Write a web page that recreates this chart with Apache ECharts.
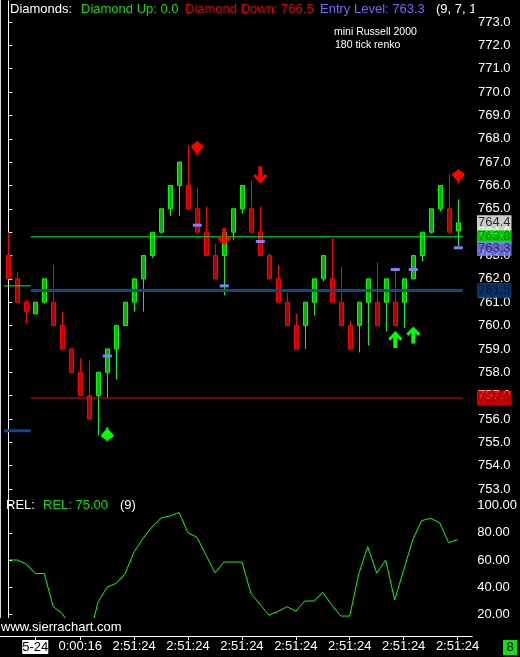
<!DOCTYPE html>
<html><head><meta charset="utf-8">
<script src="https://cdn.jsdelivr.net/npm/echarts@6/dist/echarts.min.js"></script>
<style>html,body{margin:0;padding:0;background:#000;}#c{width:520px;height:657px;}</style>
</head><body><div id="c"></div>
<script>
// ---- data ----
const opens  = [763,762,761,760.5,761,761,760,759,758,757,757,758,759,760,761,762,763,764,765,766,766,765,764,763,763,764,765,765,764,763,762,761,760,760,761,762,762,761,760,760,761,761,761,761,761,762,763,764,765,765,764.05];
const closes = [762,761,760.6,761,762,760,759,758,757,756,758,759,760,761,762,763,764,765,766,767,765,764,763,762,764,765,766,764,763,762,761,760,759,761,762,763,761,760,759,761,762,760,762,760,762,763,764,765,766,764,764.4];
const lows   = [762,761,760.1,760.5,760.95,760,759,758,757,756,755.3,756.9,757.7,760,760.6,760.6,762.9,763.95,764.7,764.7,765,764,763,762,761.3,763.65,764.8,764,763,762,761,760,759,759,760.45,761.9,761,760,759,758.85,759.15,760,759.75,760,759.9,762,762.75,763.95,764.9,764,763.4];
const highs  = [764,762.3,761.1,761,762,762.6,760.6,759,758.6,758.5,758,759,760,761,762,763,764,765,766,767,767.7,765.9,765.1,763.5,764,765,766,766.2,765.1,763.1,762.6,761.4,760.5,761,762,763,763.75,762.5,760.2,761,762,762.7,762,762.5,762,763,764,765,766,766.5,765.4];
const relValues = [60,60,57,50,50,25.6,20.7,10,6,3,29.3,40,42.8,50,66,76,84.5,91,92.4,95,80,76.7,63.7,50.6,58.5,58.5,58.5,35.5,27.4,19.5,22,25.6,22.4,29.8,29.8,36.2,26.8,18.7,18.7,49.7,69.8,50.4,60,30.5,52.6,74.7,89,90.7,87.5,72.8,75];
const priceTicks = [773,772,771,770,769,768,767,766,765,764,763,762,761,760,759,758,757,756,755,754,753];
const relTicks = [100,80,60,40,20];
const timeTickIndex = [3,8,14,20,26,32,38,44,50];
const timeTickLabels = ['5-24','0:00:16','2:51:24','2:51:24','2:51:24','2:51:24','2:51:24','2:51:24','2:51:24'];
const diamondDown = [[21,767.6],[50,766.4]];
const diamondUp = [[11,755.35]];
const arrowDown = [[24,763.8],[28,766.45]];
const arrowUp = [[43,759.4],[45,759.6]];
const entryMarks = [[11,758.7],[21,764.3],[24,761.7],[28,763.6],[43,762.4],[45,762.4],[50,763.33]];
const levelGreen = 763.8, levelBlue = 761.5, levelRed = 756.9;
const levelSpan = [2.5, 50.5];
const stubSpan = [-0.48, 2.5];
const stubGreen = 761.7, stubBlue = 755.5;
const lastPrice = 764.4, entryLevel = 763.3;

// ---- chart ----
const FONT = '"Liberation Sans", Arial, sans-serif';
const X_MIN = -0.922, X_MAX = 51.633;
const bars = opens.map((o,i)=>[i,o,closes[i],lows[i],highs[i]]);
const relData = relValues.map((v,i)=>[i,v]);
const hline = (v, span) => [[span[0], v],[span[1], v]];

const arrowDownPath = 'path://M5,0 L9,0 L9,10 L12,7 L14,9 L7,16 L0,9 L2,7 L5,10 Z';
const arrowUpPath = 'path://M5,16 L9,16 L9,6 L12,9 L14,7 L7,0 L0,7 L2,9 L5,6 Z';
const diamondDownPath = 'path://M5,0 L7,0 L7,1 L12,4 L12,6 L7,11 L7,13 L5,13 L5,11 L0,6 L0,4 L5,1 Z';
const diamondUpPath = 'path://M5,13 L7,13 L7,12 L12,9 L12,7 L7,2 L7,0 L5,0 L5,2 L0,7 L0,9 L5,12 Z';

function priceBox(v, bg, fg, z) {
  return {
    type:'scatter', xAxisIndex:0, yAxisIndex:0, z:z, clip:false, silent:true,
    symbolSize:0, data:[[X_MAX, v]],
    label:{show:true, position:'right', distance:4, formatter:()=>v.toFixed(1),
      backgroundColor:bg, color:fg, fontFamily:FONT, fontSize:13, padding:[1,1,0,1], lineHeight:14}
  };
}
function lineSeries(data, color, width, z) {
  return {type:'line', xAxisIndex:0, yAxisIndex:0, data:data, symbol:'none', z:z, silent:true,
    lineStyle:{color:color, width:width}};
}
function markers(data, symbol, size, color, z) {
  return {type:'scatter', xAxisIndex:0, yAxisIndex:0, data:data, symbol:symbol, symbolSize:size, z:z, silent:true,
    itemStyle:{color:color, opacity:1}};
}

const chart = echarts.init(document.getElementById('c'), null, {renderer:'canvas'});
chart.setOption({
  backgroundColor:'#000',
  animation:false,
  textStyle:{fontFamily:FONT},
  grid:[
    {left:0, right:47, top:1, height:492},
    {left:0, right:47, top:494, height:142}
  ],
  xAxis:[
    {gridIndex:0, type:'value', min:X_MIN, max:X_MAX, show:false},
    {gridIndex:1, type:'value', min:X_MIN, max:X_MAX,
      axisLine:{show:true, lineStyle:{color:'#fff', width:1}},
      axisTick:{show:true, customValues:timeTickIndex, length:4, lineStyle:{color:'#fff'}},
      axisLabel:{customValues:timeTickIndex, margin:4, color:'#fff', fontSize:13, fontFamily:FONT,
        formatter:(v)=>{const k=timeTickIndex.indexOf(Math.round(v)); const t=k>=0?timeTickLabels[k]:''; return k===0?'{d|'+t+'}':t;},
        rich:{d:{backgroundColor:'#fff', color:'#000', fontSize:13, fontFamily:FONT, padding:[1,0,0,0]}}},
      splitLine:{show:false}}
  ],
  yAxis:[
    {gridIndex:0, type:'value', position:'right', min:752.83, max:773.9,
      axisLine:{show:true, lineStyle:{color:'#fff'}},
      axisTick:{show:true, customValues:priceTicks, length:4, lineStyle:{color:'#fff'}},
      axisLabel:{customValues:priceTicks, formatter:(v)=>v.toFixed(1), color:'#fff', fontSize:13, fontFamily:FONT, margin:5},
      splitLine:{show:false}},
    {gridIndex:1, type:'value', position:'right', min:4.0, max:108.6,
      axisLine:{show:true, lineStyle:{color:'#fff'}},
      axisTick:{show:true, customValues:relTicks, length:4, lineStyle:{color:'#fff'}},
      axisLabel:{customValues:relTicks, formatter:(v)=>v.toFixed(2), color:'#fff', fontSize:13, fontFamily:FONT, margin:5},
      splitLine:{show:false}}
  ],
  series:[
    {type:'candlestick', xAxisIndex:0, yAxisIndex:0, data:bars, encode:{x:0, y:[1,2,3,4]}, barWidth:5, z:2, silent:true,
      itemStyle:{color:'#00b400', color0:'#b40000', borderColor:'#00ff00', borderColor0:'#ff0000', borderWidth:1}},
    lineSeries(hline(levelGreen, levelSpan), '#00ff00', 1, 3),
    lineSeries(hline(levelBlue, levelSpan), '#0b4a8a', 3, 3),
    lineSeries(hline(levelRed, levelSpan), '#ff0000', 1, 3),
    lineSeries(hline(stubGreen, stubSpan), '#00ff00', 1, 3),
    lineSeries(hline(stubBlue, stubSpan), '#0b4a8a', 3, 3),
    markers(entryMarks, 'rect', [9,3], '#8080ff', 4),
    markers(arrowDown, arrowDownPath, [14,17], '#ff0000', 5),
    markers(arrowUp, arrowUpPath, [14,17], '#00ff00', 5),
    markers(diamondDown, diamondDownPath, [12,14], '#ff0000', 5),
    markers(diamondUp, diamondUpPath, [12,14], '#00ff00', 5),
    priceBox(levelRed, '#ff0000', '#800000', 6),
    priceBox(levelBlue, '#0b3d7d', '#001530', 6),
    priceBox(levelGreen, '#00ff00', '#006000', 6),
    priceBox(entryLevel, '#8080ff', '#1a1a60', 7),
    priceBox(lastPrice, '#ffffff', '#000000', 8),
    {type:'line', xAxisIndex:1, yAxisIndex:1, data:relData, symbol:'none', z:2, silent:true,
      lineStyle:{color:'#00ff00', width:1}}
  ],
  graphic:[
    {type:'line', shape:{x1:0.5, y1:0, x2:0.5, y2:618}, style:{stroke:'#d0d0d0', lineWidth:1}, z:50},
    {type:'text', x:10, y:9, z:60, style:{text:'Diamonds:', fill:'#fff', font:'13px '+FONT, verticalAlign:'middle'}},
    {type:'text', x:81, y:9, z:60, style:{text:'Diamond Up: 0.0', fill:'#00e000', font:'13px '+FONT, verticalAlign:'middle'}},
    {type:'text', x:185, y:9, z:60, style:{text:'Diamond Down: 766.5', fill:'#e00000', font:'13px '+FONT, verticalAlign:'middle'}},
    {type:'text', x:320, y:9, z:60, style:{text:'Entry Level: 763.3', fill:'#6b6bff', font:'13px '+FONT, verticalAlign:'middle'}},
    {type:'text', x:436, y:9, z:60, style:{text:'(9, 7, 1', fill:'#fff', font:'13px '+FONT, verticalAlign:'middle'}},
    {type:'rect', shape:{x:474, y:0, width:46, height:17}, style:{fill:'#000'}, z:61},
    {type:'text', x:334, y:32.5, z:60, style:{text:'mini Russell 2000', fill:'#fff', font:'10.5px '+FONT, verticalAlign:'middle'}},
    {type:'text', x:335, y:45, z:60, style:{text:'180 tick renko', fill:'#fff', font:'10.5px '+FONT, verticalAlign:'middle'}},
    {type:'text', x:6, y:505, z:60, style:{text:'REL:', fill:'#fff', font:'13px '+FONT, verticalAlign:'middle'}},
    {type:'text', x:43, y:505, z:60, style:{text:'REL: 75.00', fill:'#00e000', font:'13px '+FONT, verticalAlign:'middle'}},
    {type:'text', x:120, y:505, z:60, style:{text:'(9)', fill:'#fff', font:'13px '+FONT, verticalAlign:'middle'}},
    {type:'text', x:0, y:618, z:60, style:{text:'www.sierrachart.com', fill:'#fff', font:'13px '+FONT, backgroundColor:'#000', padding:[3,2,2,1]}},
    {type:'text', x:503, y:640, z:60, style:{text:'8', fill:'#000', font:'13px '+FONT, backgroundColor:'#10e010', padding:[1,3.5,1,3.5]}}
  ]
});
</script>
</body></html>
